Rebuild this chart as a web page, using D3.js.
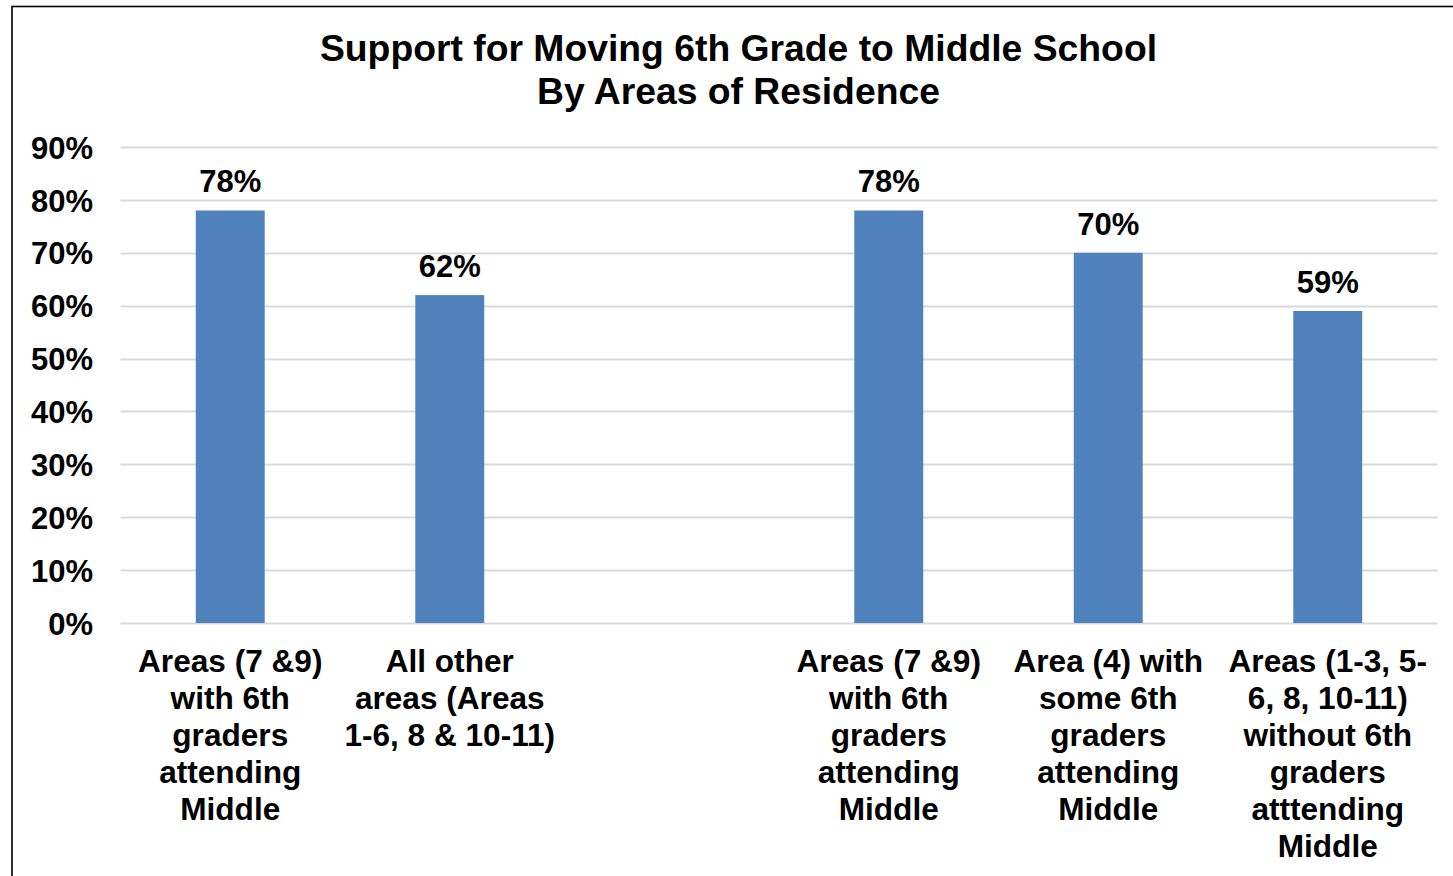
<!DOCTYPE html>
<html>
<head>
<meta charset="utf-8">
<script src="https://cdn.jsdelivr.net/npm/d3@7"></script>
<style>
  html, body { margin: 0; padding: 0; background: #fff; }
  svg { display: block; }
  text { font-family: "Liberation Sans", Arial, sans-serif; font-weight: bold; fill: #000; }
</style>
</head>
<body>
<svg id="chart" width="1453" height="876"></svg>
<script>
// Chart content
const titleLines = ["Support for Moving 6th Grade to Middle School", "By Areas of Residence"];

// Category labels, one array of lines per slot (the empty slot separates the two groups)
const categoryLabels = [
  ["Areas (7 &9)", "with 6th", "graders", "attending", "Middle"],
  ["All other", "areas (Areas", "1-6, 8 & 10-11)"],
  [],
  ["Areas (7 &9)", "with 6th", "graders", "attending", "Middle"],
  ["Area (4) with", "some 6th", "graders", "attending", "Middle"],
  ["Areas (1-3, 5-", "6, 8, 10-11)", "without 6th", "graders", "atttending", "Middle"]
];

// Percent supporting, per slot
const supportValues = [78, 62, null, 78, 70, 59];

// Y axis ticks (percent)
const yTicks = [0, 10, 20, 30, 40, 50, 60, 70, 80, 90];

const svg = d3.select("#chart");

// Outer frame
svg.append("rect")
  .attr("x", 12).attr("y", 6.5)
  .attr("width", 1470).attr("height", 900)
  .attr("fill", "none").attr("stroke", "#000").attr("stroke-width", 1.6);

// Title
svg.append("g").selectAll("text")
  .data(titleLines)
  .join("text")
  .attr("x", 738.5)
  .attr("y", (d, i) => 61 + i * 43)
  .attr("text-anchor", "middle")
  .style("font-size", "37.3px")
  .text(d => d);

const plot = { left: 120.5, right: 1437.5, top: 147, bottom: 623 };

const x = d3.scaleBand()
  .domain(d3.range(categoryLabels.length))
  .range([plot.left, plot.right])
  .paddingInner(0.686)
  .paddingOuter(0.343);

const y = d3.scaleLinear()
  .domain([0, 90])
  .range([plot.bottom, plot.top]);

// Gridlines
svg.append("g").selectAll("line")
  .data(yTicks)
  .join("line")
  .attr("x1", plot.left).attr("x2", plot.right)
  .attr("y1", d => Math.round(y(d)) + 0.5)
  .attr("y2", d => Math.round(y(d)) + 0.5)
  .attr("stroke", "#d9d9d9")
  .attr("stroke-width", 2);

// Y axis labels
const yAxis = d3.axisLeft(y)
  .tickValues(yTicks)
  .tickFormat(d => d + "%")
  .tickSize(0)
  .tickPadding(27.5);

const yg = svg.append("g")
  .attr("transform", `translate(${plot.left},0)`)
  .call(yAxis);
yg.select(".domain").remove();
yg.selectAll("text")
  .attr("dy", "0.36em")
  .style("font-size", "31px")
  .style("font-family", "'Liberation Sans', Arial, sans-serif")
  .style("font-weight", "bold")
  .attr("fill", "#000");

// Bars
const data = supportValues.map((v, i) => ({ i, v })).filter(d => d.v != null);

svg.append("g").selectAll("rect")
  .data(data)
  .join("rect")
  .attr("x", d => x(d.i))
  .attr("width", x.bandwidth())
  .attr("y", d => y(d.v))
  .attr("height", d => y(0) - y(d.v))
  .attr("fill", "#4f81bd");

// Value labels
svg.append("g").selectAll("text")
  .data(data)
  .join("text")
  .attr("x", d => x(d.i) + x.bandwidth() / 2)
  .attr("y", d => y(d.v) - 18)
  .attr("text-anchor", "middle")
  .style("font-size", "31px")
  .text(d => d.v + "%");

// Category labels (multi-line)
const cat = svg.append("g").selectAll("text")
  .data(categoryLabels.map((lines, i) => ({ i, lines })))
  .join("text")
  .attr("text-anchor", "middle")
  .style("font-size", "31.6px");

cat.selectAll("tspan")
  .data(d => d.lines.map((t, k) => ({ t, k, cx: x(d.i) + x.bandwidth() / 2 })))
  .join("tspan")
  .attr("x", d => d.cx)
  .attr("y", d => 672 + d.k * 37)
  .text(d => d.t);
</script>
</body>
</html>
